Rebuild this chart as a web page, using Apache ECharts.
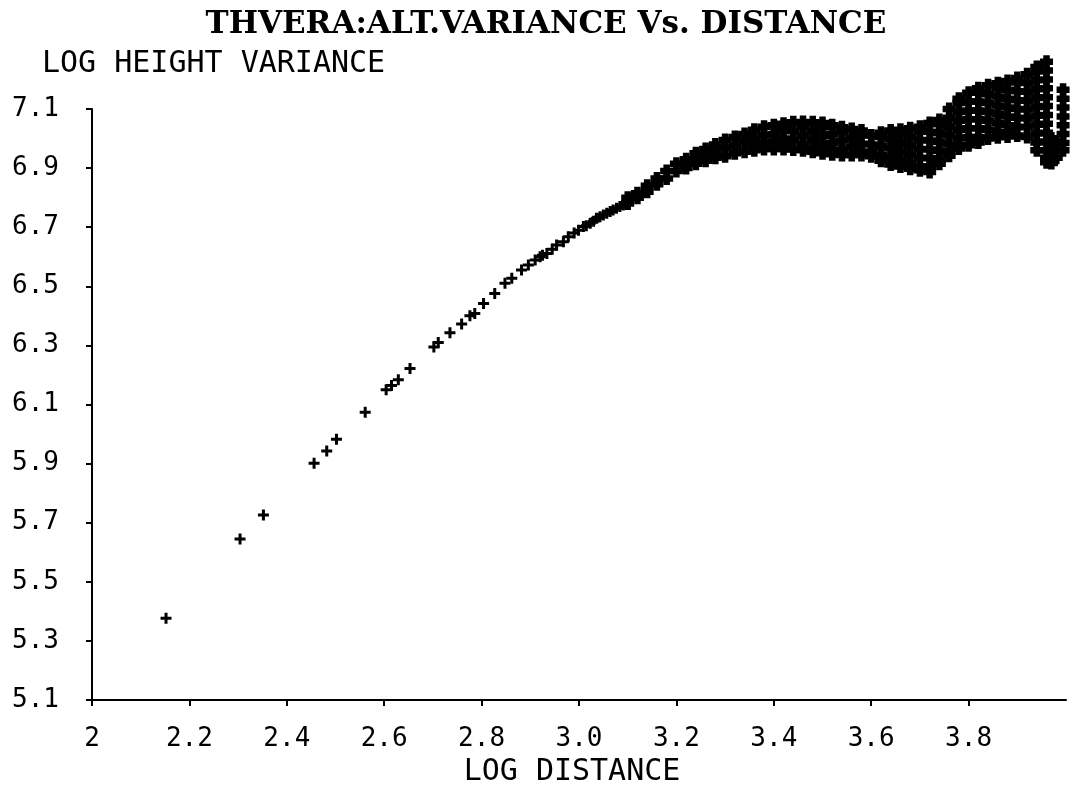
<!DOCTYPE html>
<html>
<head>
<meta charset="utf-8">
<script src="https://cdn.jsdelivr.net/npm/echarts@6/dist/echarts.min.js"></script>
<style>
html,body{margin:0;padding:0;background:#fff;}
#chart{width:1070px;height:785px;}
</style>
</head>
<body>
<div id="chart"></div>
<script>
// ---- Data ----
const titleText = 'THVERA:ALT.VARIANCE Vs. DISTANCE';
const xName = 'LOG DISTANCE';
const yName = 'LOG HEIGHT VARIANCE';

// isolated / lightly overlapping points (short lags)
const sparseX = [2.152, 2.304, 2.352, 2.456, 2.482, 2.502, 2.561, 2.604, 2.615, 2.629, 2.653, 2.702, 2.711, 2.735, 2.759, 2.776, 2.786, 2.804, 2.827, 2.848, 2.862, 2.882, 2.896, 2.910, 2.920, 2.925, 2.934, 2.945, 2.954, 2.968, 2.978, 2.990, 2.999, 3.009, 3.015, 3.023, 3.030, 3.036, 3.043, 3.050, 3.057, 3.064, 3.070, 3.077, 3.084, 3.091, 3.098];
const sparseY = [5.377, 5.645, 5.726, 5.901, 5.943, 5.982, 6.074, 6.150, 6.164, 6.184, 6.222, 6.295, 6.310, 6.343, 6.372, 6.400, 6.408, 6.442, 6.476, 6.510, 6.527, 6.555, 6.572, 6.589, 6.600, 6.605, 6.611, 6.625, 6.640, 6.651, 6.668, 6.680, 6.690, 6.702, 6.705, 6.713, 6.720, 6.730, 6.735, 6.741, 6.747, 6.753, 6.758, 6.764, 6.770, 6.775, 6.780];

// dense cloud (long lags): one list of values per distance column
const bandX = [3.10, 3.12, 3.14, 3.16, 3.18, 3.20, 3.22, 3.24, 3.26, 3.28, 3.30, 3.32, 3.34, 3.36, 3.38, 3.40, 3.42, 3.44, 3.46, 3.48, 3.50, 3.52, 3.54, 3.56, 3.58, 3.60, 3.62, 3.64, 3.66, 3.68, 3.70, 3.72, 3.74, 3.76, 3.78, 3.80, 3.82, 3.84, 3.86, 3.88, 3.90, 3.92, 3.94, 3.96, 3.97, 3.98, 3.994];
const bandY = [
  [6.80, 6.78],
  [6.815, 6.80],
  [6.84, 6.82],
  [6.865, 6.845],
  [6.89, 6.865],
  [6.915, 6.89],
  [6.93, 6.915, 6.90],
  [6.95, 6.93, 6.915],
  [6.965, 6.945, 6.925],
  [6.98, 6.955, 6.935],
  [6.995, 6.97, 6.94],
  [7.005, 6.975, 6.95],
  [7.015, 6.99, 6.955],
  [7.03, 7.0, 6.975, 6.96],
  [7.04, 7.01, 6.985, 6.965],
  [7.045, 7.015, 6.99, 6.965],
  [7.05, 7.03, 7.0, 6.975, 6.965],
  [7.055, 7.025, 6.995, 6.963],
  [7.056, 7.04, 7.01, 6.98, 6.96],
  [7.055, 7.025, 6.995, 6.965, 6.955],
  [7.053, 7.038, 7.008, 6.978, 6.95],
  [7.045, 7.015, 6.985, 6.96, 6.947],
  [7.038, 7.023, 6.993, 6.963, 6.944],
  [7.032, 7.002, 6.972, 6.944],
  [7.027, 7.012, 6.982, 6.955, 6.944],
  [7.01, 6.98, 6.955, 6.94],
  [7.02, 7.005, 6.975, 6.945, 6.925],
  [7.027, 6.997, 6.967, 6.937, 6.912],
  [7.03, 7.015, 6.985, 6.955, 6.925, 6.905],
  [7.035, 7.005, 6.975, 6.945, 6.915, 6.898],
  [7.04, 7.025, 6.995, 6.965, 6.935, 6.905, 6.893],
  [7.053, 7.023, 6.993, 6.963, 6.933, 6.905, 6.887],
  [7.063, 7.048, 7.018, 6.988, 6.958, 6.928, 6.915],
  [7.10, 7.07, 7.04, 7.01, 6.98, 6.955, 6.942],
  [7.135, 7.12, 7.09, 7.06, 7.03, 7.0, 6.975, 6.966],
  [7.155, 7.125, 7.095, 7.065, 7.035, 7.005, 6.977],
  [7.17, 7.155, 7.125, 7.095, 7.065, 7.035, 7.005, 6.987],
  [7.18, 7.15, 7.12, 7.09, 7.06, 7.03, 7.0],
  [7.187, 7.172, 7.142, 7.112, 7.082, 7.052, 7.022, 7.004],
  [7.195, 7.165, 7.135, 7.105, 7.075, 7.045, 7.02, 7.007],
  [7.205, 7.19, 7.16, 7.13, 7.10, 7.07, 7.04, 7.01],
  [7.218, 7.188, 7.158, 7.128, 7.098, 7.068, 7.038, 7.005],
  [7.242, 7.227, 7.197, 7.167, 7.137, 7.107, 7.077, 7.047, 7.017, 6.987, 6.96],
  [7.26, 7.23, 7.20, 7.17, 7.14, 7.11, 7.08, 7.05, 7.02, 6.99, 6.96, 6.935, 6.92],
  [7.0, 6.97, 6.945, 6.917],
  [6.99, 6.96, 6.935],
  [7.165, 7.135, 7.105, 7.075, 7.045, 7.015, 6.985, 6.96]
];

// axis settings
const xMin = 2, xMax = 4, xStep = 0.2;
const yMin = 5.1, yMax = 7.1, yStep = 0.2;

// ---- Build series data ----
const sparseData = sparseX.map((x, i) => [x, sparseY[i]]);
const bandData = [];
bandX.forEach((x, i) => bandY[i].forEach(y => bandData.push([x, y])));

const plusThin = 'path://M4,0H7V4H11V7H7V11H4V7H0V4H4Z';
const plusThick = 'path://M3,0H9V3H12V9H9V12H3V9H0V3H3Z';
const mono = '"DejaVu Sans Mono", "Liberation Mono", monospace';

const chart = echarts.init(document.getElementById('chart'), null, {renderer: 'canvas'});
chart.setOption({
  animation: false,
  backgroundColor: '#ffffff',
  title: {
    text: titleText,
    left: 541,
    textAlign: 'center',
    top: 4,
    textStyle: {fontFamily: '"DejaVu Serif", "Liberation Serif", serif', fontWeight: 'bold', fontSize: 31, color: '#000'}
  },
  grid: {left: 92, right: 4, top: 109, bottom: 85, containLabel: false, outerBoundsMode: 'none'},
  xAxis: {
    type: 'value', min: xMin, max: xMax, interval: xStep,
    name: xName, nameLocation: 'middle', nameGap: 52,
    nameTextStyle: {fontFamily: mono, fontSize: 30, color: '#000', padding: [0, 14, 0, 0]},
    axisLine: {show: true, onZero: false, lineStyle: {color: '#000', width: 2}},
    axisTick: {show: true, inside: false, length: 6, lineStyle: {color: '#000', width: 2}},
    axisLabel: {
      color: '#000', fontFamily: mono, fontSize: 26, margin: 26, showMaxLabel: false,
      formatter: v => (Math.abs(v - 2) < 1e-9 ? '2' : v.toFixed(1))
    },
    splitLine: {show: false}
  },
  yAxis: {
    type: 'value', min: yMin, max: yMax, interval: yStep,
    name: yName, nameLocation: 'end', nameGap: 30,
    nameTextStyle: {fontFamily: mono, fontSize: 30, color: '#000', align: 'left', padding: [0, 0, 0, -50]},
    axisLine: {show: true, onZero: false, lineStyle: {color: '#000', width: 2}},
    axisTick: {show: true, inside: false, length: 6, lineStyle: {color: '#000', width: 2}},
    axisLabel: {
      color: '#000', fontFamily: mono, fontSize: 26, margin: 33,
      formatter: v => v.toFixed(1)
    },
    splitLine: {show: false}
  },
  series: [
    {
      type: 'scatter', name: 'short lags', data: sparseData, clip: false,
      symbol: plusThin, symbolSize: 11,
      itemStyle: {color: '#000', opacity: 1}
    },
    {
      type: 'scatter', name: 'long lags', data: bandData, clip: false,
      symbol: plusThick, symbolSize: 13,
      itemStyle: {color: '#000', opacity: 1}
    }
  ]
});
</script>
</body>
</html>
